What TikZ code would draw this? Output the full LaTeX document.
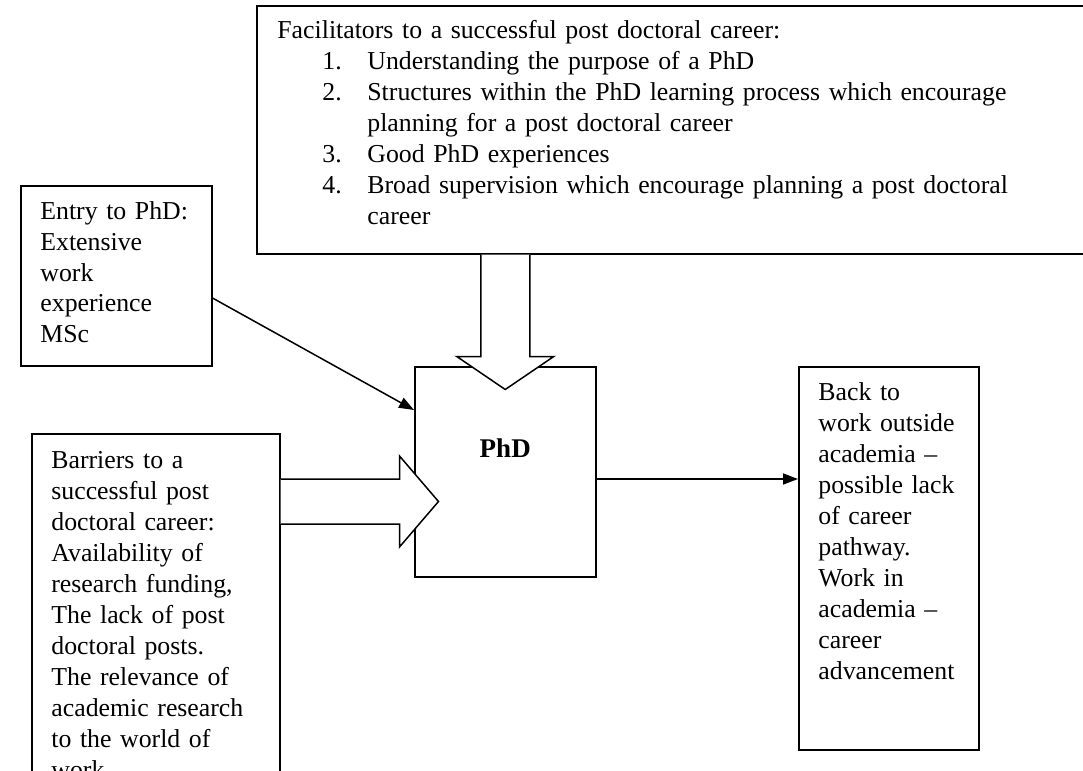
\documentclass[tikz,border=0pt]{standalone}
\usepackage{fontspec}
\setmainfont{Liberation Serif}
\usepackage{tikz}
\usetikzlibrary{arrows.meta, positioning, calc}

\begin{document}
\begin{tikzpicture}[
    x=0.5pt, y=-0.5pt,
    box/.style={rectangle, draw=black, line width=0.75pt, anchor=north west, inner sep=0pt},
    txt/.style={anchor=base west, inner sep=0pt, align=left, font=\fontsize{12.9}{15.5}\selectfont},
    block/.style={draw=black, line width=0.75pt, fill=white},
    arrow/.style={-{Triangle[length=7.5pt, width=5.5pt]}, line width=0.75pt, black}
]
\clip (0,0) rectangle (1083,771);
\fill[white] (0,0) rectangle (1083,771);

\node[box, minimum width=417pt, minimum height=124pt] (fac) at (256,5) {};
\node[box, minimum width=95.5pt, minimum height=90pt] (entry) at (20,185) {};
\node[box, minimum width=124pt, minimum height=180pt] (barr) at (31,433) {};
\node[box, minimum width=90.5pt, minimum height=105pt] (phd) at (414,366) {};
\node[box, minimum width=90pt, minimum height=191.5pt] (out) at (798,366) {};

\node[txt, text width=400pt] (factxt) at ($(fac.north west)+(21,34)$) {Facilitators to a successful post doctoral career:\\
\hspace*{22.5pt}\makebox[22.5pt][l]{1.}Understanding the purpose of a PhD\\
\hspace*{22.5pt}\makebox[22.5pt][l]{2.}Structures within the PhD learning process which encourage\\
\hspace*{45pt}planning for a post doctoral career\\
\hspace*{22.5pt}\makebox[22.5pt][l]{3.}Good PhD experiences\\
\hspace*{22.5pt}\makebox[22.5pt][l]{4.}Broad supervision which encourage planning a post doctoral\\
\hspace*{45pt}career};
\node[txt, text width=85pt] (entrytxt) at ($(entry.north west)+(20,34)$) {Entry to PhD:\\Extensive\\work\\experience\\MSc};
\node[txt, text width=110pt] (barrtxt) at ($(barr.north west)+(20,35)$) {Barriers to a\\successful post\\doctoral career:\\Availability of\\research funding,\\The lack of post\\doctoral posts.\\The relevance of\\academic research\\to the world of\\work};
\node[txt, text width=80pt] (outtxt) at ($(out.north west)+(20,34)$) {Back to\\work outside\\academia --\\possible lack\\of career\\pathway.\\Work in\\academia --\\career\\advancement};
\node[anchor=base, inner sep=0pt, font=\fontsize{13.5}{15.5}\selectfont\bfseries] (phdtxt) at ($(phd.north)+(0,91)$) {PhD};

\coordinate (dtop) at (phd.north |- fac.south);
\draw[block] (dtop) ++(-24.5,0) -- ++(0,102) -- ++(-24,0) -- ++(48.5,33)
    -- ++(48.5,-33) -- ++(-24,0) -- ++(0,-102);
\coordinate (rbase) at ($(barr.north east)+(0,68.5)$);
\draw[block] (rbase) ++(0,-22.5) -- ++(119,0) -- ++(0,-23) -- ++(39,45.5)
    -- ++(-39,45.5) -- ++(0,-23) -- ++(-119,0);

\draw[arrow] ($(entry.north east)+(0,113)$) -- ($(phd.north west)+(0,44)$);
\draw[arrow] ($(phd.north east)+(0,113)$) coordinate (o1) -- (o1 -| out.west);
\end{tikzpicture}
\end{document}
